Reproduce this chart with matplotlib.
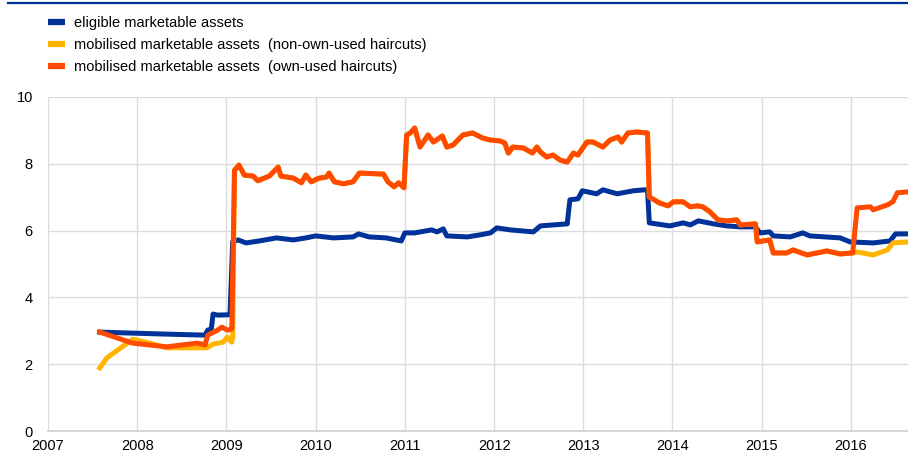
import matplotlib
matplotlib.use("Agg")
import matplotlib.pyplot as plt
from matplotlib.lines import Line2D

plt.rcParams['font.family'] = ['Liberation Sans', 'DejaVu Sans']

# colours
blue = '#003299'
yellow = '#FFB400'
orange = '#FF4B00'

# eligible marketable assets (decimal years, EUR trillions)
elig_years = [2007.58, 2007.95, 2008.33, 2008.76, 2008.79, 2008.83, 2008.85, 2008.90,
              2009.04, 2009.07, 2009.13, 2009.22, 2009.37, 2009.56, 2009.75, 2009.89,
              2010.00, 2010.20, 2010.42, 2010.48, 2010.60, 2010.79, 2010.96, 2011.00,
              2011.11, 2011.30, 2011.36, 2011.43, 2011.47, 2011.70, 2011.84, 2011.96,
              2012.03, 2012.18, 2012.44, 2012.52, 2012.82, 2012.85, 2012.94, 2012.99,
              2013.15, 2013.22, 2013.38, 2013.56, 2013.69, 2013.72, 2013.74, 2013.97,
              2014.12, 2014.20, 2014.29, 2014.46, 2014.61, 2014.76, 2014.93, 2014.98,
              2015.09, 2015.13, 2015.32, 2015.46, 2015.54, 2015.88, 2015.99, 2016.25,
              2016.44, 2016.50, 2016.64]
elig_vals = [2.96, 2.93, 2.90, 2.87, 3.02, 3.05, 3.50, 3.47,
             3.48, 5.66, 5.72, 5.63, 5.69, 5.78, 5.72, 5.78,
             5.84, 5.78, 5.81, 5.90, 5.81, 5.78, 5.69, 5.93,
             5.93, 6.02, 5.96, 6.05, 5.84, 5.81, 5.87, 5.93,
             6.08, 6.02, 5.96, 6.14, 6.20, 6.92, 6.95, 7.19,
             7.10, 7.22, 7.10, 7.19, 7.22, 7.22, 6.23, 6.14,
             6.23, 6.17, 6.29, 6.20, 6.14, 6.11, 6.11, 5.93,
             5.96, 5.84, 5.81, 5.93, 5.84, 5.78, 5.66, 5.63,
             5.69, 5.90, 5.90]

# mobilised assets, period where both haircut variants coincide
shared_years = [2009.09, 2009.14, 2009.20, 2009.30, 2009.35, 2009.48, 2009.58, 2009.61,
                2009.75, 2009.84, 2009.89, 2009.95, 2010.04, 2010.12, 2010.15, 2010.21,
                2010.31, 2010.42, 2010.49, 2010.76, 2010.81, 2010.88, 2010.93, 2010.99,
                2011.02, 2011.06, 2011.11, 2011.17, 2011.26, 2011.32, 2011.42, 2011.47,
                2011.54, 2011.65, 2011.76, 2011.87, 2011.96, 2012.07, 2012.12, 2012.16,
                2012.21, 2012.33, 2012.43, 2012.48, 2012.52, 2012.59, 2012.66, 2012.74,
                2012.82, 2012.89, 2012.94, 2013.04, 2013.11, 2013.22, 2013.30, 2013.39,
                2013.43, 2013.50, 2013.60, 2013.72, 2013.74, 2013.85, 2013.95, 2014.01,
                2014.12, 2014.20, 2014.28, 2014.34, 2014.42, 2014.51, 2014.61, 2014.72,
                2014.76, 2014.93, 2014.95, 2015.09, 2015.13, 2015.28, 2015.35, 2015.51,
                2015.73, 2015.88, 2016.02]
shared_vals = [7.80, 7.96, 7.66, 7.63, 7.49, 7.63, 7.90, 7.63,
               7.57, 7.43, 7.66, 7.46, 7.57, 7.60, 7.72, 7.46,
               7.40, 7.46, 7.72, 7.69, 7.46, 7.31, 7.43, 7.28,
               8.86, 8.92, 9.07, 8.50, 8.86, 8.65, 8.83, 8.50,
               8.56, 8.86, 8.92, 8.77, 8.71, 8.68, 8.62, 8.32,
               8.50, 8.47, 8.32, 8.50, 8.35, 8.20, 8.26, 8.11,
               8.05, 8.32, 8.26, 8.65, 8.65, 8.50, 8.71, 8.80,
               8.65, 8.92, 8.95, 8.92, 7.01, 6.83, 6.74, 6.86,
               6.86, 6.71, 6.74, 6.71, 6.56, 6.32, 6.29, 6.32,
               6.17, 6.20, 5.66, 5.72, 5.33, 5.33, 5.42, 5.27,
               5.39, 5.30, 5.33]

# non-own-used haircuts, start and end
non_own_early_years = [2007.58, 2007.66, 2007.95, 2008.14, 2008.33, 2008.78, 2008.85,
                       2008.96, 2009.01, 2009.06, 2009.07]
non_own_early_vals = [1.89, 2.19, 2.75, 2.63, 2.49, 2.49, 2.60, 2.66, 2.81, 2.66, 2.81]
non_own_late_years = [2016.07, 2016.25, 2016.41, 2016.47, 2016.64]
non_own_late_vals = [5.36, 5.27, 5.42, 5.63, 5.66]

# own-used haircuts, start and end
own_early_years = [2007.58, 2007.95, 2008.33, 2008.67, 2008.73, 2008.76, 2008.79,
                   2008.90, 2008.95, 2009.01, 2009.06]
own_early_vals = [2.96, 2.63, 2.52, 2.63, 2.60, 2.57, 2.87, 3.02, 3.11, 3.02, 3.05]
own_late_years = [2016.07, 2016.22, 2016.25, 2016.41, 2016.47, 2016.52, 2016.64]
own_late_vals = [6.68, 6.71, 6.62, 6.77, 6.86, 7.13, 7.16]

labels = ['eligible marketable assets',
          'mobilised marketable assets  (non-own-used haircuts)',
          'mobilised marketable assets  (own-used haircuts)']
year_ticks = list(range(2007, 2017))

fig = plt.figure(figsize=(9.08, 4.55), dpi=100)
ax = fig.add_axes([0.0529, 0.0527, 0.9471, 0.7343])

lw = 3.6
ax.plot(elig_years, elig_vals, color=blue, lw=lw, solid_joinstyle='round', zorder=3)
ax.plot(non_own_early_years + shared_years + non_own_late_years,
        non_own_early_vals + shared_vals + non_own_late_vals,
        color=yellow, lw=lw, solid_joinstyle='round', zorder=4)
ax.plot(own_early_years + shared_years + own_late_years,
        own_early_vals + shared_vals + own_late_vals,
        color=orange, lw=lw, solid_joinstyle='round', zorder=5)

ax.set_xlim(2007, 2016.64)
ax.set_ylim(0, 10)
ax.set_xticks(year_ticks)
ax.set_xticklabels([str(y) for y in year_ticks])
ax.set_yticks([0, 2, 4, 6, 8, 10])
ax.grid(True, color='#dcdcdc', lw=1.0, zorder=0)
for s in ['top', 'right', 'left']:
    ax.spines[s].set_visible(False)
ax.spines['bottom'].set_color('#d0d0d0')
ax.spines['bottom'].set_linewidth(1.2)
ax.tick_params(axis='both', length=0, labelsize=10.5, colors='black')
ax.tick_params(axis='y', pad=11)
ax.tick_params(axis='x', pad=6)

# legend
handles = [Line2D([], [], color=c, lw=4.5, solid_capstyle='butt') for c in (blue, yellow, orange)]
fig.legend(handles, labels, loc='upper left', bbox_to_anchor=(0.0529, 0.964),
           frameon=False, fontsize=10.5, handlelength=1.15, handletextpad=0.65,
           labelspacing=0.55, borderpad=0, borderaxespad=0)

# top rule
fig.add_artist(Line2D([0.009, 1.0], [0.993, 0.993], color=blue, lw=1.6,
                      transform=fig.transFigure))

fig.savefig('out.png', dpi=100)
